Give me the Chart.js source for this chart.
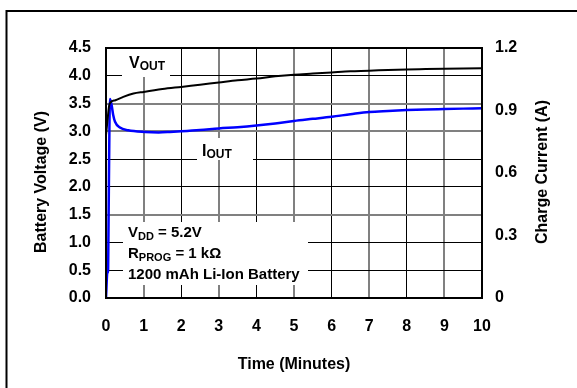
<!DOCTYPE html>
<html>
<head>
<meta charset="utf-8">
<script src="https://cdn.jsdelivr.net/npm/chart.js@4/dist/chart.umd.min.js"></script>
<style>
html,body{margin:0;padding:0;background:#fff;}
#wrap{position:relative;width:577px;height:388px;}
canvas{display:block;}
</style>
</head>
<body>
<div id="wrap"><canvas id="c" width="577" height="388"></canvas></div>
<script>
// ---- data ----
const timeV   = [0, 0.04, 0.08, 0.12, 0.25, 0.46, 0.73, 1, 1.5, 2, 2.5, 3, 3.5, 4, 4.5, 5, 5.5, 6, 6.5, 7, 7.5, 8, 8.5, 9, 9.5, 10];
const voltage = [2.93, 3.2, 3.45, 3.52, 3.56, 3.62, 3.68, 3.71, 3.76, 3.80, 3.84, 3.88, 3.92, 3.95, 3.99, 4.02, 4.04, 4.06, 4.08, 4.09, 4.105, 4.115, 4.12, 4.125, 4.13, 4.135];

const timeI   = [0, 0.035, 0.055, 0.065, 0.09, 0.105, 0.15, 0.19, 0.24, 0.37, 0.59, 1.04, 1.4, 1.7, 2, 2.5, 3, 3.5, 4, 4.5, 5, 5.5, 6, 6.5, 7, 7.5, 8, 8.5, 9, 9.5, 10];
const current = [0, 0.12, 0.13, 0.3, 0.8, 0.955, 0.925, 0.88, 0.846, 0.818, 0.805, 0.797, 0.795, 0.797, 0.8, 0.806, 0.814, 0.82, 0.828, 0.838, 0.85, 0.86, 0.87, 0.882, 0.893, 0.898, 0.902, 0.905, 0.907, 0.909, 0.911];

const xTicks  = [0,1,2,3,4,5,6,7,8,9,10];
const vTicks  = ['0.0','0.5','1.0','1.5','2.0','2.5','3.0','3.5','4.0','4.5'];
const iTicks  = ['0','0.3','0.6','0.9','1.2'];
const greyV   = [1.5, 3.0, 3.5];

const FONT = "'Liberation Sans', Arial, sans-serif";

const deco = {
  id: 'deco',
  beforeDatasetsDraw(chart) {
    const ctx = chart.ctx;
    ctx.save();
    ctx.fillStyle = '#fff';
    ctx.fillRect(122, 49, 48, 28);   // V_OUT label box
    ctx.fillRect(197, 138, 56, 22);  // I_OUT label box
    ctx.fillRect(123, 222, 185, 63); // conditions box
    ctx.fillStyle = '#000';
    ctx.textBaseline = 'alphabetic';
    ctx.textAlign = 'left';
    function sub(main, s, rest, x, y, size, ssize, drop) {
      ctx.font = 'bold ' + size + 'px ' + FONT;
      ctx.fillText(main, x, y);
      let w = ctx.measureText(main).width;
      ctx.font = 'bold ' + ssize + 'px ' + FONT;
      ctx.fillText(s, x + w, y + drop);
      w += ctx.measureText(s).width;
      if (rest) {
        ctx.font = 'bold ' + size + 'px ' + FONT;
        ctx.fillText(rest, x + w, y);
      }
    }
    sub('V', 'OUT', '', 129, 68, 16, 12, 2);
    sub('I', 'OUT', '', 202, 156, 16, 12, 2);
    sub('V', 'DD', ' = 5.2V', 128, 237, 15, 11, 3);
    sub('R', 'PROG', ' = 1 k\u03A9', 128, 257.5, 15, 11, 3);
    ctx.font = 'bold 15px ' + FONT;
    ctx.fillText('1200 mAh Li-Ion Battery', 128, 279);
    ctx.restore();
  },
  afterDraw(chart) {
    const ctx = chart.ctx;
    const a = chart.chartArea;
    ctx.save();
    ctx.strokeStyle = '#000';
    ctx.lineWidth = 2;
    ctx.strokeRect(a.left, a.top, a.right - a.left, a.bottom - a.top);
    // outer frame (left and top edges visible)
    ctx.beginPath();
    ctx.moveTo(6.5, 400); ctx.lineTo(6.5, 11); ctx.lineTo(600, 11);
    ctx.stroke();
    ctx.font = 'bold 16px ' + FONT;
    ctx.textAlign = 'center';
    ctx.textBaseline = 'middle';
    ctx.fillStyle = '#000';
    // left axis title
    ctx.save();
    ctx.translate(42, 182);
    ctx.rotate(-Math.PI / 2);
    ctx.fillText('Battery Voltage (V)', 0, 0);
    ctx.restore();
    // right axis title
    ctx.save();
    ctx.translate(543, 172);
    ctx.rotate(-Math.PI / 2);
    ctx.fillText('Charge Current (A)', 0, 0);
    ctx.restore();
    ctx.restore();
  }
};

new Chart(document.getElementById('c'), {
  type: 'line',
  data: {
    datasets: [
      {
        label: 'VOUT',
        data: timeV.map((t, i) => ({x: t, y: voltage[i]})),
        yAxisID: 'y',
        borderColor: '#000',
        borderWidth: 2,
        pointRadius: 0,
        cubicInterpolationMode: 'monotone',
        fill: false
      },
      {
        label: 'IOUT',
        data: timeI.map((t, i) => ({x: t, y: current[i]})),
        yAxisID: 'y1',
        borderColor: '#0000ff',
        borderWidth: 2.5,
        pointRadius: 0,
        cubicInterpolationMode: 'monotone',
        fill: false
      }
    ]
  },
  options: {
    responsive: false,
    devicePixelRatio: 1,
    animation: false,
    layout: {padding: {top: 48, left: 0, right: 0, bottom: 0}},
    plugins: {legend: {display: false}, tooltip: {enabled: false}},
    scales: {
      x: {
        type: 'linear', min: 0, max: 10,
        afterBuildTicks: s => { s.ticks = xTicks.map(v => ({value: v})); },
        ticks: {color: '#000', font: {family: FONT, size: 16, weight: 'bold'}, padding: 19, maxRotation: 0,
                callback: v => String(v)},
        grid: {drawTicks: false, color: c => (c.tick && c.tick.value % 2 === 1) ? '#808080' : '#000',
               lineWidth: c => (c.tick && c.tick.value % 2 === 1) ? 2 : 1},
        border: {display: false},
        title: {display: true, text: 'Time (Minutes)', color: '#000',
                font: {family: FONT, size: 16, weight: 'bold'}, padding: {top: 0, bottom: 14}},
        afterFit: s => { s.height = 90; }
      },
      y: {
        position: 'left', min: 0, max: 4.5,
        afterBuildTicks: s => { s.ticks = vTicks.map(v => ({value: parseFloat(v)})); },
        ticks: {color: '#000', font: {family: FONT, size: 16, weight: 'bold'}, padding: 15,
                callback: (v, i) => vTicks[i]},
        grid: {drawTicks: false,
               color: c => (c.tick && greyV.includes(c.tick.value)) ? '#808080' : '#000',
               lineWidth: c => (c.tick && greyV.includes(c.tick.value)) ? 2 : 1},
        border: {display: false},
        afterFit: s => { s.width = 106; }
      },
      y1: {
        position: 'right', min: 0, max: 1.2,
        afterBuildTicks: s => { s.ticks = iTicks.map(v => ({value: parseFloat(v)})); },
        ticks: {color: '#000', font: {family: FONT, size: 16, weight: 'bold'}, padding: 13,
                callback: (v, i) => iTicks[i]},
        grid: {drawOnChartArea: false, drawTicks: false},
        border: {display: false},
        afterFit: s => { s.width = 95; }
      }
    }
  },
  plugins: [deco]
});
</script>
</body>
</html>
